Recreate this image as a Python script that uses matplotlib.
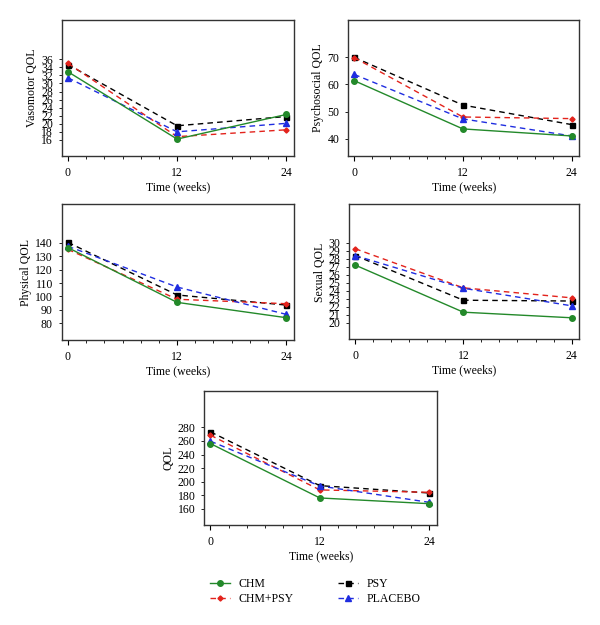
import matplotlib
matplotlib.use("Agg")
import matplotlib.pyplot as plt
from matplotlib.ticker import MultipleLocator

plt.rcParams["font.family"] = ["Liberation Serif", "DejaVu Serif"]


# DATA

weeks = [0, 12, 24]
groups = ["CHM", "CHM+PSY", "PSY", "PLACEBO"]

vaso_chm = [32.9, 16.2, 22.3]
vaso_chm_psy = [35.0, 16.8, 18.5]
vaso_psy = [34.7, 19.5, 21.8]
vaso_placebo = [31.4, 18.0, 20.1]

psycho_chm = [61.4, 43.6, 41.0]
psycho_chm_psy = [69.9, 48.0, 47.4]
psycho_psy = [70.0, 52.4, 45.2]
psycho_placebo = [63.7, 47.3, 41.0]

phys_chm = [136.3, 95.6, 84.2]
phys_chm_psy = [135.0, 97.9, 94.6]
phys_psy = [140.2, 101.1, 93.6]
phys_placebo = [137.3, 107.0, 86.7]

sex_chm = [27.2, 21.3, 20.6]
sex_chm_psy = [29.25, 24.35, 23.1]
sex_psy = [28.4, 22.8, 22.7]
sex_placebo = [28.4, 24.3, 22.1]

qol_chm = [256.0, 176.2, 167.8]
qol_chm_psy = [268.3, 188.0, 184.5]
qol_psy = [273.2, 194.3, 183.5]
qol_placebo = [259.5, 193.8, 169.8]


# STYLES

styles = {
    "CHM": dict(color="#23892a", linestyle="-", marker="o", markersize=4),
    "CHM+PSY": dict(color="#e3231c", linestyle=(0, (4, 3)), marker="D", markersize=2.6),
    "PSY": dict(color="black", linestyle=(0, (4, 3)), marker="s", markersize=3.6),
    "PLACEBO": dict(color="#1f2de0", linestyle=(0, (4, 3)), marker="^", markersize=4),
}
draw_order = ["PSY", "CHM+PSY", "PLACEBO", "CHM"]


def draw_panel(ax, series, ylabel, ylim, yticks):
    handles = {}
    for name in draw_order:
        line, = ax.plot(weeks, series[name], linewidth=1.0, label=name, **styles[name])
        handles[name] = line

    ax.set_xlim(-0.66, 24.86)
    ax.set_ylim(*ylim)
    ax.set_xticks(weeks)
    ax.xaxis.set_minor_locator(MultipleLocator(2))
    ax.set_yticks(yticks)

    ax.tick_params(axis="x", which="major", direction="out", length=3.5, width=0.8, pad=4.5, labelsize=8.5)
    ax.tick_params(axis="x", which="minor", direction="out", length=2, width=0.6)
    ax.tick_params(axis="y", which="major", direction="out", length=2, width=0.6, pad=4.5, labelsize=8.5)

    for spine in ax.spines.values():
        spine.set_linewidth(1.0)
        spine.set_color("#333333")

    ax.set_xlabel("Time (weeks)", fontsize=8.5, labelpad=1.5)
    ax.set_ylabel(ylabel, fontsize=8.5, labelpad=2)
    return handles


# FIGURE

fig = plt.figure(figsize=(6, 6.25), dpi=100)

ax1 = fig.add_axes([0.1033, 0.7504, 0.3867, 0.2176])
ax2 = fig.add_axes([0.5805, 0.7504, 0.3850, 0.2176])
ax3 = fig.add_axes([0.1033, 0.4560, 0.3867, 0.2168])
ax4 = fig.add_axes([0.5822, 0.4571, 0.3833, 0.2157])
ax5 = fig.add_axes([0.3408, 0.1600, 0.3875, 0.2149])

draw_panel(ax1, {"CHM": vaso_chm, "CHM+PSY": vaso_chm_psy, "PSY": vaso_psy, "PLACEBO": vaso_placebo},
           "Vasomotor QOL", (12, 45.75), range(16, 37, 2))
draw_panel(ax2, {"CHM": psycho_chm, "CHM+PSY": psycho_chm_psy, "PSY": psycho_psy, "PLACEBO": psycho_placebo},
           "Psychosocial QOL", (33.6, 83.8), range(40, 71, 10))
draw_panel(ax3, {"CHM": phys_chm, "CHM+PSY": phys_chm_psy, "PSY": phys_psy, "PLACEBO": phys_placebo},
           "Physical QOL", (67.6, 168.4), range(80, 141, 10))
draw_panel(ax4, {"CHM": sex_chm, "CHM+PSY": sex_chm_psy, "PSY": sex_psy, "PLACEBO": sex_placebo},
           "Sexual QOL", (17.9, 34.8), range(20, 31, 1))
handles = draw_panel(ax5, {"CHM": qol_chm, "CHM+PSY": qol_chm_psy, "PSY": qol_psy, "PLACEBO": qol_placebo},
                     "QOL", (136.5, 333.7), range(160, 281, 20))

# LEGEND (two columns: CHM / CHM+PSY, PSY / PLACEBO)

fig.legend([handles[g] for g in groups], groups,
           loc="upper left", bbox_to_anchor=(0.34, 0.085), ncol=2,
           frameon=False, fontsize=8.5, numpoints=1, borderpad=0,
           handlelength=1.7, handletextpad=0.75, columnspacing=3.7, labelspacing=0.3)

fig.savefig("out.png", dpi=100)
